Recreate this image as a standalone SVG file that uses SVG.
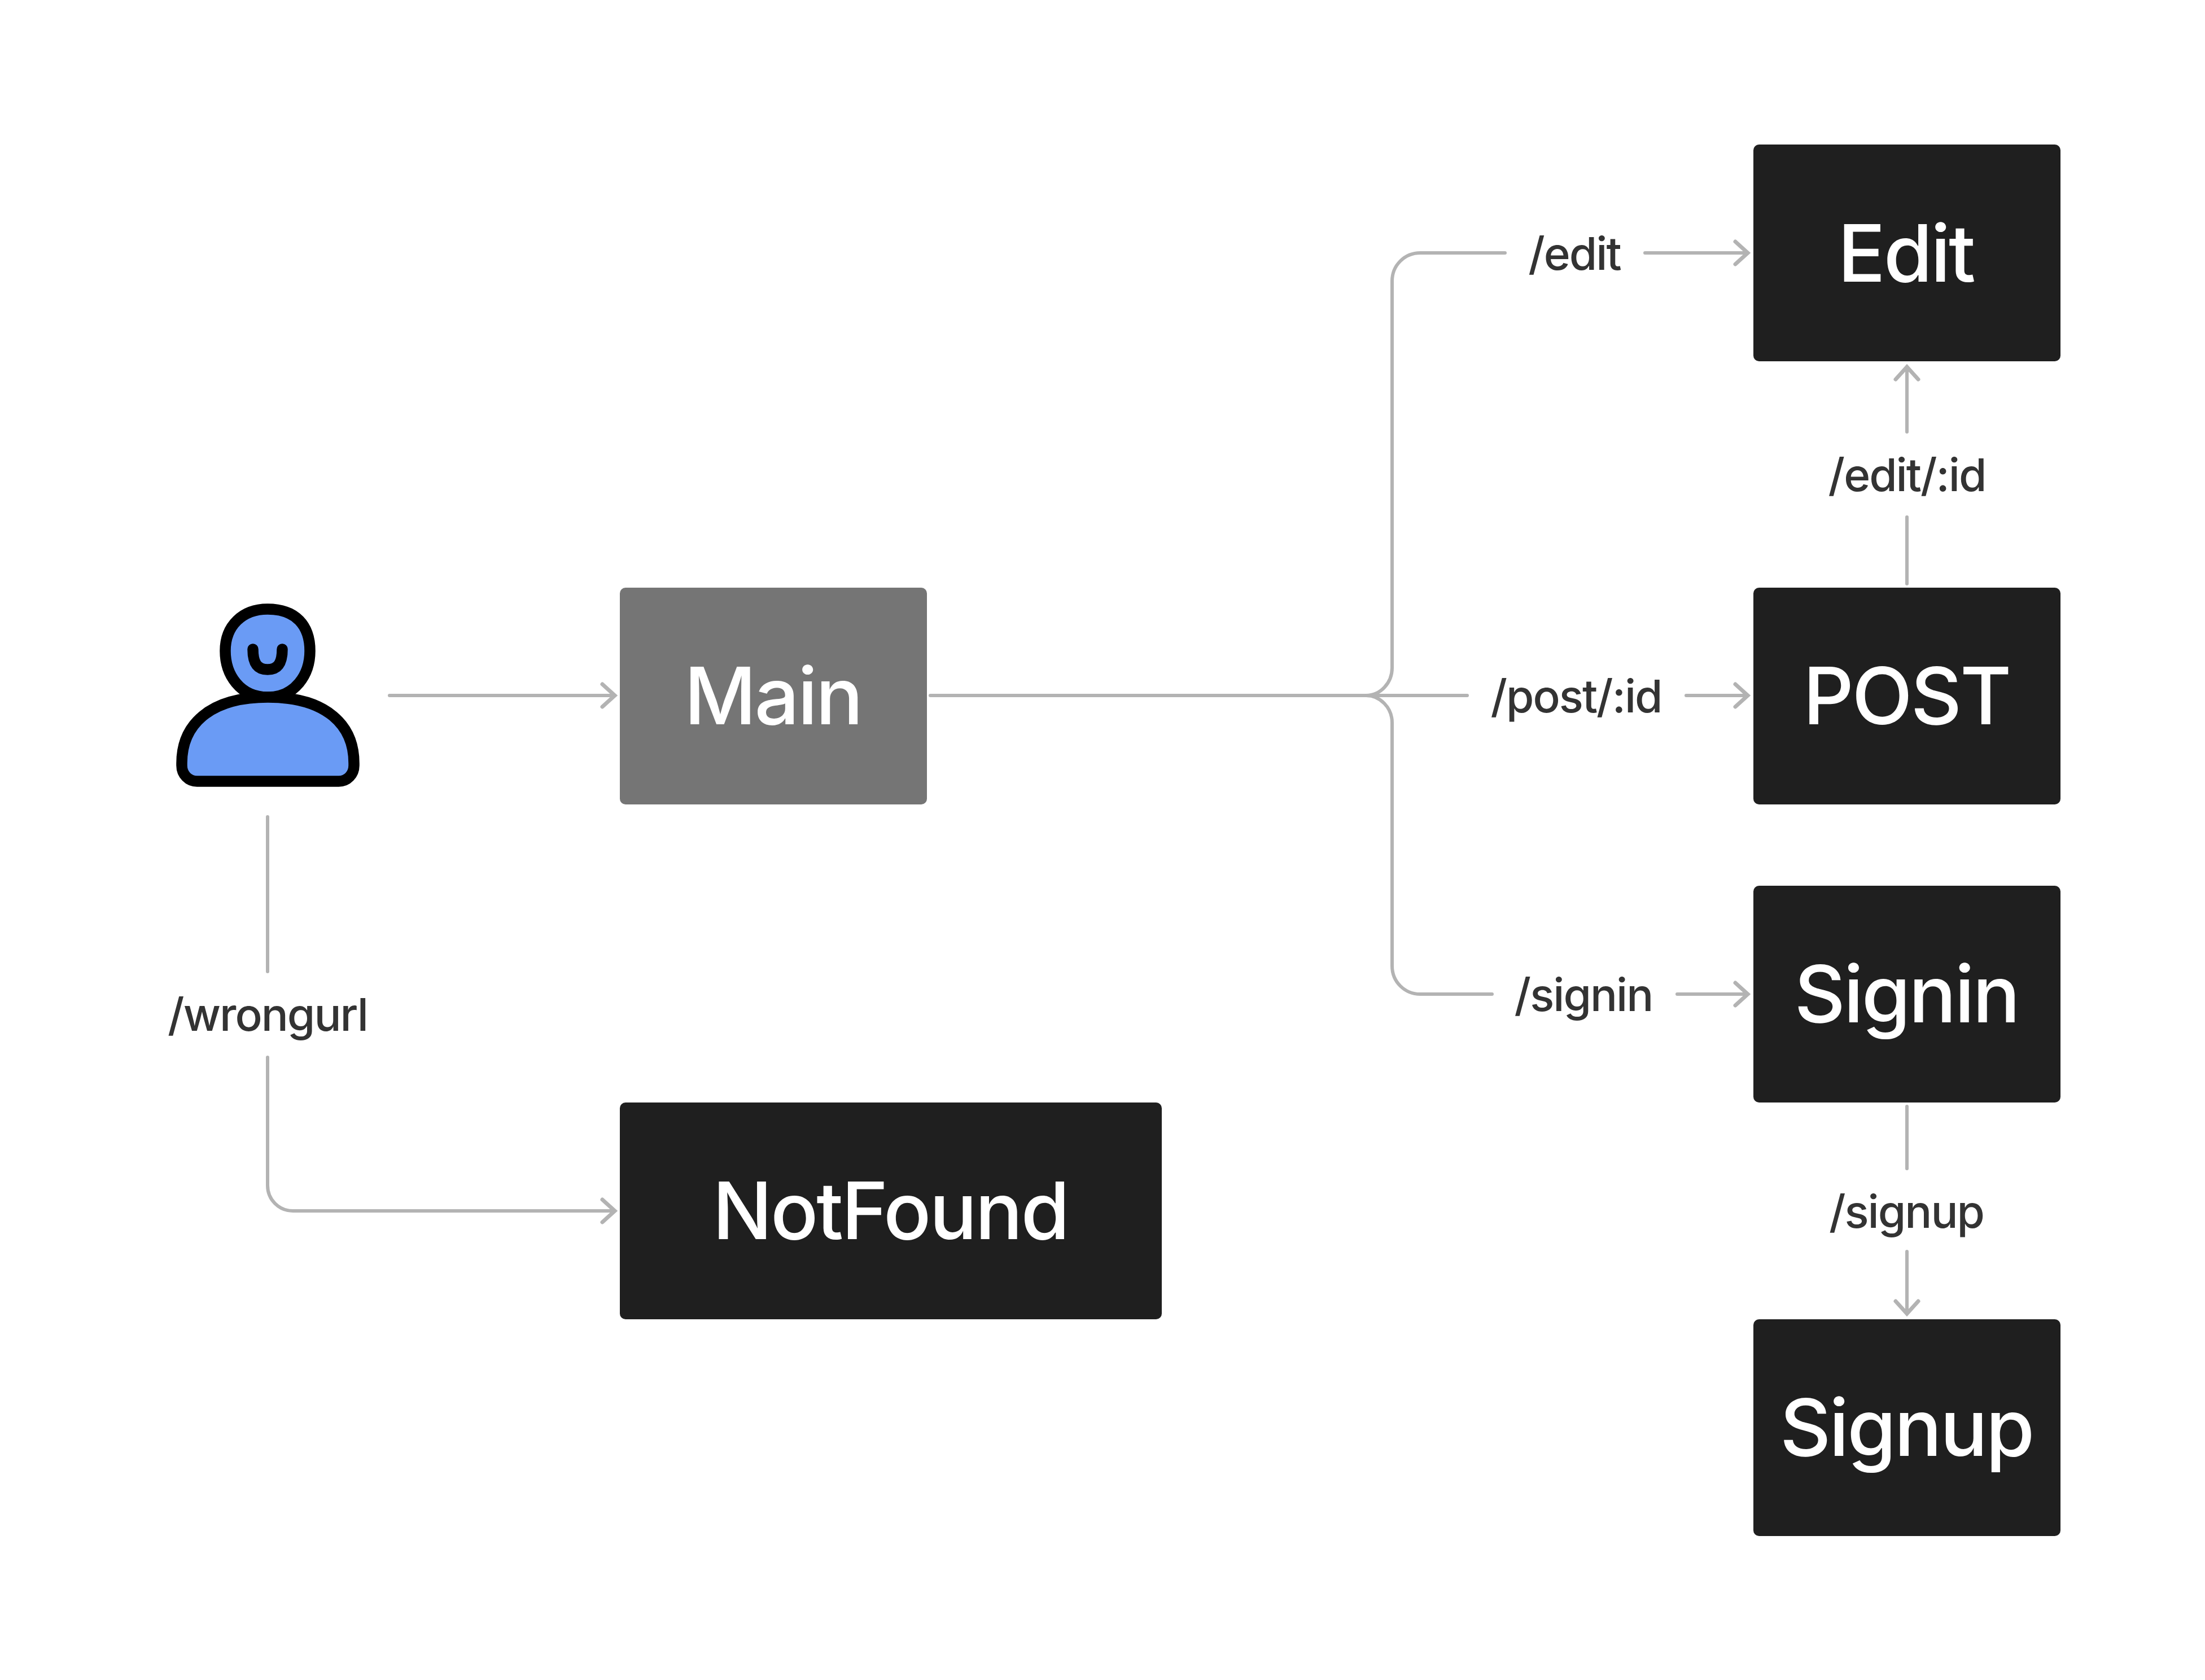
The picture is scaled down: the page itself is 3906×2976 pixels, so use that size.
<svg xmlns="http://www.w3.org/2000/svg" width="3906" height="2976" viewBox="0 0 3906 2976">
<style>
.n{fill:#1f1f1f}
.m{fill:#757575}
.t{font-family:Inter,"Liberation Sans",sans-serif;font-size:140px;font-weight:450;letter-spacing:-3.2px;fill:#fff;text-anchor:middle}
.l{font-family:Inter,"Liberation Sans",sans-serif;font-size:80px;font-weight:450;letter-spacing:-2px;fill:#333;text-anchor:middle}
.c{fill:none;stroke:#b3b3b3;stroke-width:6;stroke-linecap:round;stroke-linejoin:round}
.i{fill:#6a9bf5;stroke:#000;stroke-width:19.5;stroke-linejoin:round;stroke-linecap:round}
</style>
<defs>
<marker id="a" markerUnits="userSpaceOnUse" markerWidth="40" markerHeight="60" refX="30" refY="30" orient="auto" viewBox="0 0 40 60"><path d="M8 10 L30 30 L8 50" fill="none" stroke="#b3b3b3" stroke-width="7" stroke-linecap="round" stroke-linejoin="miter"/></marker>
</defs>
<rect width="3906" height="2976" fill="#fff"/>
<g id="connectors">
<path class="c" d="M690 1232H1089" marker-end="url(#a)"/>
<path class="c" d="M474 1447V1721"/>
<path class="c" d="M474 1873V2100C474 2125 494 2145 519 2145H1089" marker-end="url(#a)"/>
<path class="c" d="M1648 1232H2599"/>
<path class="c" d="M2420 1232C2445 1232 2466 1210 2466 1183V498C2466 470 2488 448 2516 448H2666"/>
<path class="c" d="M2420 1232C2445 1232 2466 1254 2466 1280V1711C2466 1739 2488 1761 2516 1761H2643"/>
<path class="c" d="M2914 448H3096" marker-end="url(#a)"/>
<path class="c" d="M2987 1232H3096" marker-end="url(#a)"/>
<path class="c" d="M2971 1761H3096" marker-end="url(#a)"/>
<path class="c" d="M3378 1034V916"/>
<path class="c" d="M3378 765V650" marker-end="url(#a)"/>
<path class="c" d="M3378 1960V2070"/>
<path class="c" d="M3378 2217V2327" marker-end="url(#a)"/>
</g>
<g id="labels">
<text class="l" x="2789" y="478">/edit</text>
<text class="l" x="2792" y="1262">/post/:id</text>
<text class="l" x="2805" y="1791">/signin</text>
<text class="l" x="3378" y="870">/edit/:id</text>
<text class="l" x="3377" y="2175">/signup</text>
<text class="l" x="474" y="1826">/wrongurl</text>
</g>
<g id="user">
<path class="i" d="M474 1079C524 1079 549 1108 549 1153C549 1195 523 1235 474 1235C425 1235 399 1195 399 1153C399 1108 430 1079 474 1079Z"/>
<path class="i" d="M474.500 1235C579 1235 627 1285 627 1352V1356C627 1372 615 1384 600 1384H349C334 1384 322 1372 322 1356V1352C322 1285 370 1235 474.500 1235Z"/>
<path class="i" style="fill:none" d="M448 1150C448 1172 454 1186 474 1186C494 1186 500 1172 500 1150"/>
</g>
<g id="main"><rect class="m" x="1098" y="1041" width="544" height="384" rx="10"/><text class="t" x="1369" y="1283">Main</text></g>
<g id="edit"><rect class="n" x="3106" y="256" width="544" height="384" rx="10"/><text class="t" x="3376" y="499">Edit</text></g>
<g id="post"><rect class="n" x="3106" y="1041" width="544" height="384" rx="10"/><text class="t" x="3377" y="1283">POST</text></g>
<g id="signin"><rect class="n" x="3106" y="1569" width="544" height="384" rx="10"/><text class="t" x="3377" y="1811">Signin</text></g>
<g id="signup"><rect class="n" x="3106" y="2337" width="544" height="384" rx="10"/><text class="t" x="3377" y="2579">Signup</text></g>
<g id="notfound"><rect class="n" x="1098" y="1953" width="960" height="384" rx="10"/><text class="t" x="1577" y="2195">NotFound</text></g>
</svg>
